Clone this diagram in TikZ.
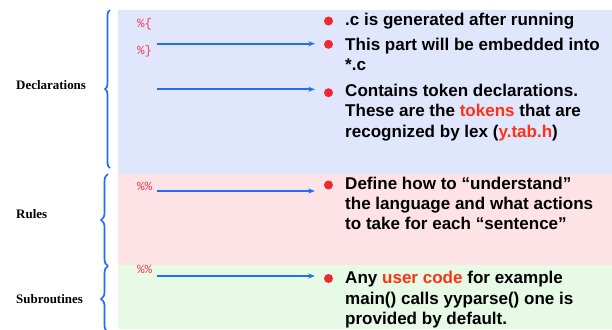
\documentclass[tikz,border=0pt]{standalone}
\usepackage{fontspec}
\setmainfont{Liberation Sans}
\newfontfamily\labfont{Liberation Serif}
\newfontfamily\codefont{Liberation Mono}
\usetikzlibrary{decorations.pathreplacing,arrows.meta}
\definecolor{bgblue}{RGB}{224,230,252}
\definecolor{bgpink}{RGB}{253,226,230}
\definecolor{bggreen}{RGB}{230,250,230}
\definecolor{braceblue}{RGB}{30,110,250}
\definecolor{bulred}{RGB}{240,40,50}
\definecolor{codered}{RGB}{255,60,80}
\definecolor{hired}{RGB}{255,50,20}
\newcommand{\hl}[1]{\textcolor{hired}{#1}}
\tikzset{
  bodytext/.style={anchor=base west, inner sep=0pt, align=left,
    font=\fontsize{17.1}{20.3}\selectfont\bfseries},
  labtext/.style={anchor=base west, inner sep=0pt,
    font=\labfont\fontsize{13}{15}\selectfont\bfseries},
  codetext/.style={anchor=base west, inner sep=0pt, text=codered,
    font=\codefont\fontsize{12.5}{14}\selectfont},
  bul/.style={circle, fill=bulred, inner sep=0pt, minimum size=9bp},
  arr/.style={draw=braceblue, line width=1.8bp, -{Stealth[length=6.5bp,width=5bp]}, shorten >=9bp},
  bracestyle/.style={draw=braceblue, line width=1.7bp, decorate},
}
\begin{document}
\begin{tikzpicture}[x=1bp,y=-1bp]
\useasboundingbox (0,0) rectangle (612,329);
% regions
\fill[bgblue] (118,10) rectangle (612,174);
\fill[bgpink] (118,174) rectangle (612,265);
\fill[bggreen] (118,265) rectangle (612,329);
% braces
\draw[bracestyle, decoration={brace,amplitude=5bp}] (110,168) -- (110,10);
\draw[bracestyle, decoration={brace,amplitude=7bp}] (108,266) -- (108,174);
\draw[bracestyle, decoration={brace,amplitude=7bp}] (108,332) -- (108,266);
% labels
\node[labtext] (ldecl) at (16,89) {Declarations};
\node[labtext] (lrules) at (16,218) {Rules};
\node[labtext] (lsub) at (16,303) {Subroutines};
% code markers
\node[codetext] (c1) at (137,27) {\%\{};
\node[codetext] (c2) at (137,54) {\%\}};
\node[codetext] (c3) at (137,190) {\%\%};
\node[codetext] (c4) at (137,273) {\%\%};
% bullets
\node[bul] (b1) at (328.5,21) {};
\node[bul] (b2) at (328.5,44.3) {};
\node[bul] (b3) at (328.5,92.7) {};
\node[bul] (b4) at (328.5,185) {};
\node[bul] (b5) at (328.5,278.5) {};
% texts (anchor = baseline of the last line)
\node[bodytext] (t1) at (345,25.7) {.c is generated after running};
\node[bodytext] (t2) at (345,70.7) {This part will be embedded into\\*.c};
\node[bodytext] (t3) at (345,137) {Contains token declarations.\\These are the \hl{tokens} that are\\recognized by lex (\hl{y.tab.h})};
\node[bodytext] (t4) at (345,229.5) {Define how to “understand”\\the language and what actions\\to take for each “sentence”};
\node[bodytext] (t5) at (345,324.3) {Any \hl{user code} for example\\main() calls yyparse() one is\\provided by default.};
% arrow starts
\coordinate (s2) at (157,43.7);
\coordinate (s3) at (157,89.3);
\coordinate (s4) at (157,191);
\coordinate (s5) at (157,276);
\draw[arr] (s2) -- (s2 -| b2.west);
\draw[arr] (s3) -- (s3 -| b3.west);
\draw[arr] (s4) -- (s4 -| b4.west);
\draw[arr] (s5) -- (s5 -| b5.west);
\end{tikzpicture}
\end{document}
